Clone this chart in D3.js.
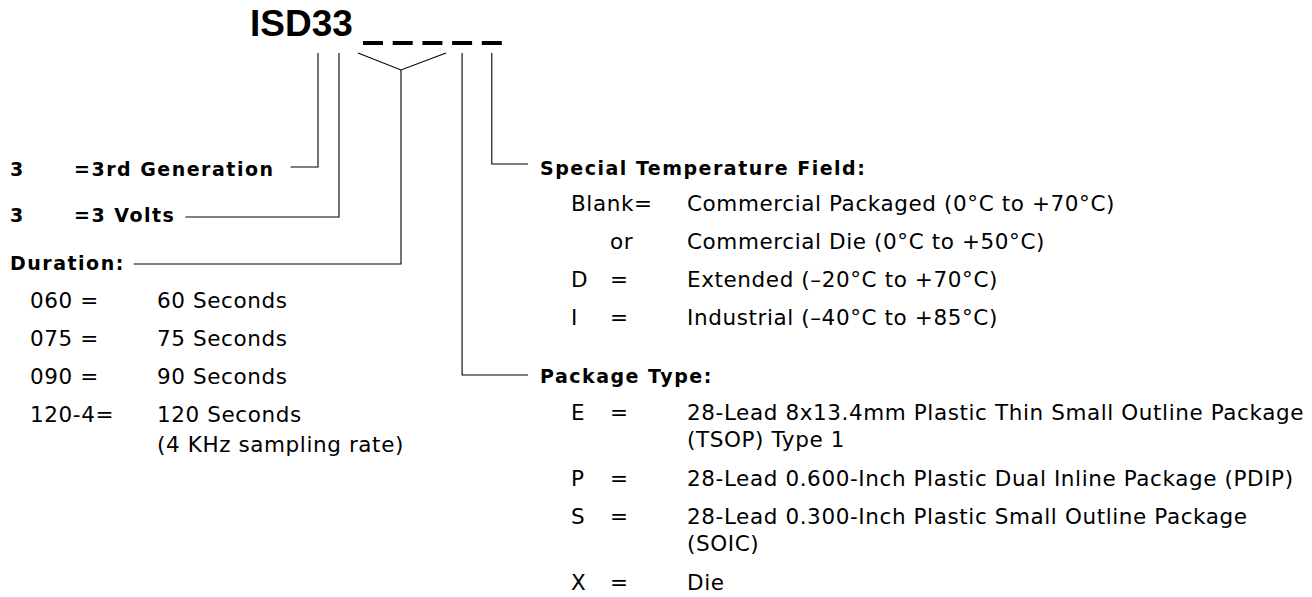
<!DOCTYPE html>
<html>
<head>
<meta charset="utf-8">
<script src="https://cdn.jsdelivr.net/npm/d3@7"></script>
<style>
  body { margin: 0; background: #fff; }
  text { font-family: "DejaVu Sans", sans-serif; fill: #000; }
  .bold { font-weight: bold; letter-spacing: 1.5px; }
  .plain { font-size: 21.5px; letter-spacing: 0.6px; }
  .title { font-family: "Liberation Sans", Arial, sans-serif; font-weight: bold; font-size: 37px; }
</style>
</head>
<body>
<div id="chart"></div>
<script>
// part number pieces
var partPrefix = "ISD33";
var fieldSlots = [0, 1, 2, 3, 4];

// left side
var genCode = ["3", "=3rd Generation"];
var voltCode = ["3", "=3 Volts"];
var durationTitle = "Duration:";
var durationCodes = ["060 =", "075 =", "090 =", "120-4="];
var durationText = [["60 Seconds"], ["75 Seconds"], ["90 Seconds"], ["120 Seconds", "(4 KHz sampling rate)"]];

// right side
var tempTitle = "Special Temperature Field:";
var tempCodes = ["Blank=", "", "D", "I"];
var tempEquals = ["", "or", "=", "="];
var tempText = ["Commercial Packaged (0°C to +70°C)", "Commercial Die (0°C to +50°C)",
                "Extended (\u201320°C to +70°C)", "Industrial (\u201340°C to +85°C)"];
var packTitle = "Package Type:";
var packCodes = ["E", "P", "S", "X"];
var packText = [["28-Lead 8x13.4mm Plastic Thin Small Outline Package", "(TSOP) Type 1"],
                ["28-Lead 0.600-Inch Plastic Dual Inline Package (PDIP)"],
                ["28-Lead 0.300-Inch Plastic Small Outline Package", "(SOIC)"],
                ["Die"]];

var w = 1312, h = 597;
var svg = d3.select("#chart").append("svg").attr("width", w).attr("height", h);

// x of the blank fields under the part number
var xField = d3.scaleLinear().domain([0, 5]).range([363, 511.5]);
var dashW = 20;
var lineTop = 53;

// title
svg.append("text").attr("class", "title").attr("x", 250).attr("y", 36).text(partPrefix);

svg.selectAll("rect.dash").data(fieldSlots).enter().append("rect")
    .attr("class", "dash")
    .attr("x", function (d) { return xField(d); })
    .attr("y", 41).attr("width", dashW).attr("height", 4)
    .attr("fill", "#000");

var line = function (pts) {
    svg.append("path").attr("d", d3.line()(pts))
        .attr("fill", "none").attr("stroke", "#000").attr("stroke-width", 1.1);
};

// rows for left side
var leftRow = d3.scaleLinear().domain([0, 1]).range([176, 222]);
var durRow = d3.scaleLinear().domain([0, 1]).range([308, 346]);
var subGap = 30;

function boldText(x, y, s) {
    return svg.append("text").attr("class", "bold").attr("x", x).attr("y", y)
        .style("font-size", "19px").text(s);
}
function plainText(x, y, s) {
    return svg.append("text").attr("class", "plain").attr("x", x).attr("y", y).text(s);
}

var genLabel = [genCode, voltCode];
var legX = [318, 339];
var legGap = [16, 10];
genLabel.forEach(function (g, i) {
    var y = leftRow(i);
    boldText(10, y, g[0]);
    var t = boldText(74, y, g[1]);
    var end = t.node().getBBox();
    var ly = y - 9 + (i === 0 ? 0 : 4);
    line([[end.x + end.width + legGap[i], ly], [legX[i], ly], [legX[i], lineTop]]);
});

// duration block
var durY = 270;
var dt = boldText(10, durY, durationTitle);
var db = dt.node().getBBox();
var apexX = 401, apexY = 70;
line([[db.x + db.width + 9, durY - 6], [apexX, durY - 6], [apexX, apexY]]);
line([[358, lineTop], [apexX, apexY], [446, lineTop]]);

durationCodes.forEach(function (c, i) {
    var y = durRow(i);
    plainText(30, y, c);
    durationText[i].forEach(function (s, j) {
        plainText(157, y + j * subGap, s);
    });
});

// right side: temperature
var tempX = xField(4) + dashW / 2;
var tempY = 175;
boldText(540, tempY, tempTitle);
line([[tempX, lineTop], [tempX, tempY - 11], [528, tempY - 11]]);
var tempRow = d3.scaleLinear().domain([0, 1]).range([211, 249]);
tempCodes.forEach(function (c, i) {
    var y = tempRow(i);
    if (c) plainText(571, y, c);
    if (tempEquals[i]) plainText(610, y, tempEquals[i]);
    plainText(687, y, tempText[i]);
});

// right side: package
var packX = xField(3) + dashW / 2;
var packY = 383;
boldText(540, packY, packTitle);
line([[packX, lineTop], [packX, packY - 8], [528, packY - 8]]);
var y = 420;
packCodes.forEach(function (c, i) {
    plainText(571, y, c);
    plainText(610, y, "=");
    packText[i].forEach(function (s, j) {
        plainText(687, y + j * 27, s);
    });
    y += 38 + (packText[i].length - 1) * 28;
});
</script>
</body>
</html>
